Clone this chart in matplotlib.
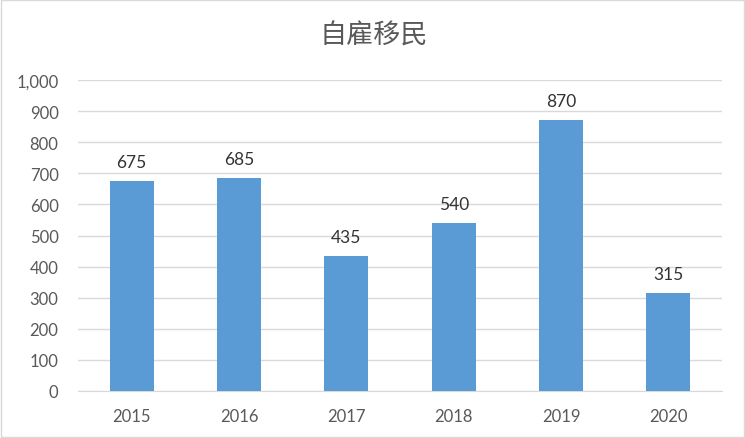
import matplotlib
matplotlib.use("Agg")
import matplotlib.pyplot as plt
from matplotlib.ticker import FuncFormatter, MultipleLocator
import numpy as np

plt.rcParams["font.family"] = ["Lato", "DejaVu Sans"]

years = ["2015", "2016", "2017", "2018", "2019", "2020"]
counts = [675, 685, 435, 540, 870, 315]
title = "自雇移民"

BAR = "#5B9BD5"
TEXT = "#595959"
GRID = "#D9D9D9"

fig = plt.figure(figsize=(7.45, 4.39), dpi=100)
ax = fig.add_axes([78 / 745, 1 - 392 / 439, (722 - 78) / 745, (392 - 81) / 439])

x = np.arange(len(years))
bars = ax.bar(x, counts, width=0.41, color=BAR, zorder=3)
for b, v in zip(bars, counts):
    ax.annotate(f"{v}", (b.get_x() + b.get_width() / 2, v), xytext=(0, 8),
                textcoords="offset points", ha="center", va="bottom",
                fontsize=12.5, color="#333333")

ax.set_xlim(-0.5, len(years) - 0.5)
ax.set_ylim(0, 1000)
ax.yaxis.set_major_locator(MultipleLocator(100))
ax.yaxis.set_major_formatter(FuncFormatter(lambda v, p: f"{int(v):,}"))
ax.set_xticks(x)
ax.set_xticklabels(years)
ax.grid(axis="y", color=GRID, linewidth=1, zorder=0)
for s in ["top", "right", "left"]:
    ax.spines[s].set_visible(False)
ax.spines["bottom"].set_color(GRID)
ax.tick_params(axis="both", length=0, labelsize=12, colors=TEXT)
ax.tick_params(axis="y", pad=14)
ax.tick_params(axis="x", pad=12)

fig.text(374 / 745, 1 - 36 / 439, title, ha="center", va="center",
         fontsize=19.5, fontweight="light", color=TEXT,
         family=["Noto Sans CJK SC", "DejaVu Sans"])

# light frame round the chart
fig.patches.append(plt.Rectangle((0.002, 0.002), 0.996, 0.996, transform=fig.transFigure,
                                 fill=False, edgecolor=GRID, linewidth=1))

fig.savefig("out.png", dpi=100)
